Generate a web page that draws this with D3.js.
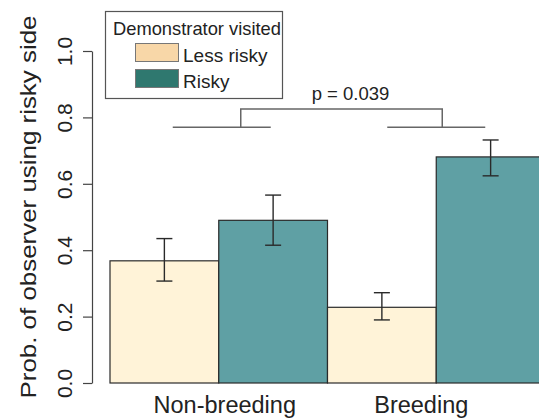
<!DOCTYPE html>
<html>
<head>
<meta charset="utf-8">
<script src="https://cdn.jsdelivr.net/npm/d3@7"></script>
<style>
  body { margin: 0; background: #fff; }
  svg { display: block; font-family: "Liberation Sans", Arial, sans-serif; }
</style>
</head>
<body>
<div id="chart"></div>
<script>
var w = 539, h = 419;

// data
var groups = ["Non-breeding", "Breeding"];
var visited = ["Less risky", "Risky"];
var meanLess = [0.368, 0.228];
var meanRisky = [0.490, 0.681];
var lowLess = [0.307, 0.190];
var highLess = [0.435, 0.272];
var lowRisky = [0.415, 0.624];
var highRisky = [0.566, 0.732];
var yTicks = [0, 0.2, 0.4, 0.6, 0.8, 1.0];
var pLabel = "p = 0.039";

var fillBar = { "Less risky": "#fff3d8", "Risky": "#5fa0a4" };
var fillKey = { "Less risky": "#f8d7a8", "Risky": "#2f786f" };

var rows = [];
groups.forEach(function(g, i) {
    rows.push({ group: g, visit: "Less risky", mean: meanLess[i], lo: lowLess[i], hi: highLess[i] });
    rows.push({ group: g, visit: "Risky", mean: meanRisky[i], lo: lowRisky[i], hi: highRisky[i] });
});

var svg = d3.select("#chart").append("svg")
    .attr("width", w)
    .attr("height", h);

var x0 = d3.scaleBand().domain(groups).range([110, 545]).padding(0);
var x1 = d3.scaleBand().domain(visited).range([0, x0.bandwidth()]).padding(0);
var y = d3.scaleLinear().domain([0, 1]).range([383, 51]);

// bars
svg.selectAll(".bar")
    .data(rows)
    .enter()
    .append("rect")
    .attr("class", "bar")
    .attr("x", function(d) { return x0(d.group) + x1(d.visit); })
    .attr("y", function(d) { return y(d.mean); })
    .attr("width", x1.bandwidth())
    .attr("height", function(d) { return y(0) - y(d.mean); })
    .attr("fill", function(d) { return fillBar[d.visit]; })
    .attr("stroke", "#2a2a2a")
    .attr("stroke-width", 1.2);

// error bars
var cap = 8;
var err = svg.selectAll(".err")
    .data(rows)
    .enter()
    .append("g")
    .attr("class", "err")
    .attr("stroke", "#2a2a2a")
    .attr("stroke-width", 1.4);
function cx(d) { return x0(d.group) + x1(d.visit) + x1.bandwidth() / 2; }
err.append("line")
    .attr("x1", cx).attr("x2", cx)
    .attr("y1", function(d) { return y(d.lo); })
    .attr("y2", function(d) { return y(d.hi); });
err.append("line")
    .attr("x1", function(d) { return cx(d) - cap; })
    .attr("x2", function(d) { return cx(d) + cap; })
    .attr("y1", function(d) { return y(d.hi); })
    .attr("y2", function(d) { return y(d.hi); });
err.append("line")
    .attr("x1", function(d) { return cx(d) - cap; })
    .attr("x2", function(d) { return cx(d) + cap; })
    .attr("y1", function(d) { return y(d.lo); })
    .attr("y2", function(d) { return y(d.lo); });

// y axis
var yAxis = svg.append("g")
    .attr("transform", "translate(92,0)")
    .call(d3.axisLeft(y).tickValues(yTicks).tickFormat(d3.format(".1f")).tickSize(9).tickSizeOuter(0));
yAxis.select(".domain").attr("stroke", "#444").attr("stroke-width", 1.2);
yAxis.selectAll(".tick line").attr("stroke", "#444").attr("stroke-width", 1.2);
yAxis.selectAll(".tick text")
    .attr("x", null)
    .attr("dy", null)
    .attr("y", 0)
    .attr("text-anchor", "middle")
    .attr("transform", "translate(-20,0) rotate(-90)")
    .attr("fill", "#222")
    .style("font-size", "21px")
    .style("font-family", "'Liberation Sans', Arial, sans-serif");

svg.append("text")
    .attr("transform", "translate(36,207) rotate(-90)")
    .attr("text-anchor", "middle")
    .attr("fill", "#222")
    .attr("textLength", 383)
    .attr("lengthAdjust", "spacingAndGlyphs")
    .style("font-size", "21.5px")
    .text("Prob. of observer using risky side");

// group labels
svg.selectAll(".glabel")
    .data(groups)
    .enter()
    .append("text")
    .attr("class", "glabel")
    .attr("x", function(d, i) { return x0(d) + x0.bandwidth() / 2 + (i === 0 ? 6 : -15); })
    .attr("y", 413)
    .attr("text-anchor", "middle")
    .attr("fill", "#222")
    .style("font-size", "23.5px")
    .text(function(d) { return d; });

// significance bracket
var bracketY = y(0.77), topY = y(0.825);
var bw = 49;
var g0 = x0(groups[0]) + x0.bandwidth() / 2;
var g1 = x0(groups[1]) + x0.bandwidth() / 2;
var br = svg.append("g").attr("stroke", "#666").attr("stroke-width", 1.5).attr("fill", "none");
br.append("line").attr("x1", g0 - bw + 3).attr("x2", g0 + bw + 3).attr("y1", bracketY).attr("y2", bracketY);
br.append("line").attr("x1", g1 - bw).attr("x2", g1 + bw).attr("y1", bracketY).attr("y2", bracketY);
br.append("path")
    .attr("d", "M" + (g0 + 22) + "," + bracketY + "V" + topY + "H" + (g1 + 6) + "V" + bracketY);
svg.append("text")
    .attr("x", (g0 + 22 + g1 + 6) / 2 + 9)
    .attr("y", topY - 9)
    .attr("text-anchor", "middle")
    .attr("fill", "#222")
    .style("font-size", "18.5px")
    .text(pLabel);

// legend
var legend = svg.append("g");
legend.append("rect")
    .attr("x", 105.5).attr("y", 11.5)
    .attr("width", 177).attr("height", 87)
    .attr("fill", "#fff")
    .attr("stroke", "#555")
    .attr("stroke-width", 1.2);
legend.append("text")
    .attr("x", 113).attr("y", 35)
    .attr("fill", "#222")
    .attr("textLength", 168)
    .attr("lengthAdjust", "spacingAndGlyphs")
    .style("font-size", "18.5px")
    .text("Demonstrator visited");
var key = legend.selectAll(".key")
    .data(visited)
    .enter()
    .append("g")
    .attr("class", "key")
    .attr("transform", function(d, i) { return "translate(135," + (43 + i * 26) + ")"; });
key.append("rect")
    .attr("x", 0.5).attr("y", 0.5)
    .attr("width", 43).attr("height", 18)
    .attr("fill", function(d) { return fillKey[d]; })
    .attr("stroke", "#777")
    .attr("stroke-width", 1);
key.append("text")
    .attr("x", 48).attr("y", 19)
    .attr("fill", "#222")
    .style("font-size", "19px")
    .text(function(d) { return d; });
</script>
</body>
</html>
